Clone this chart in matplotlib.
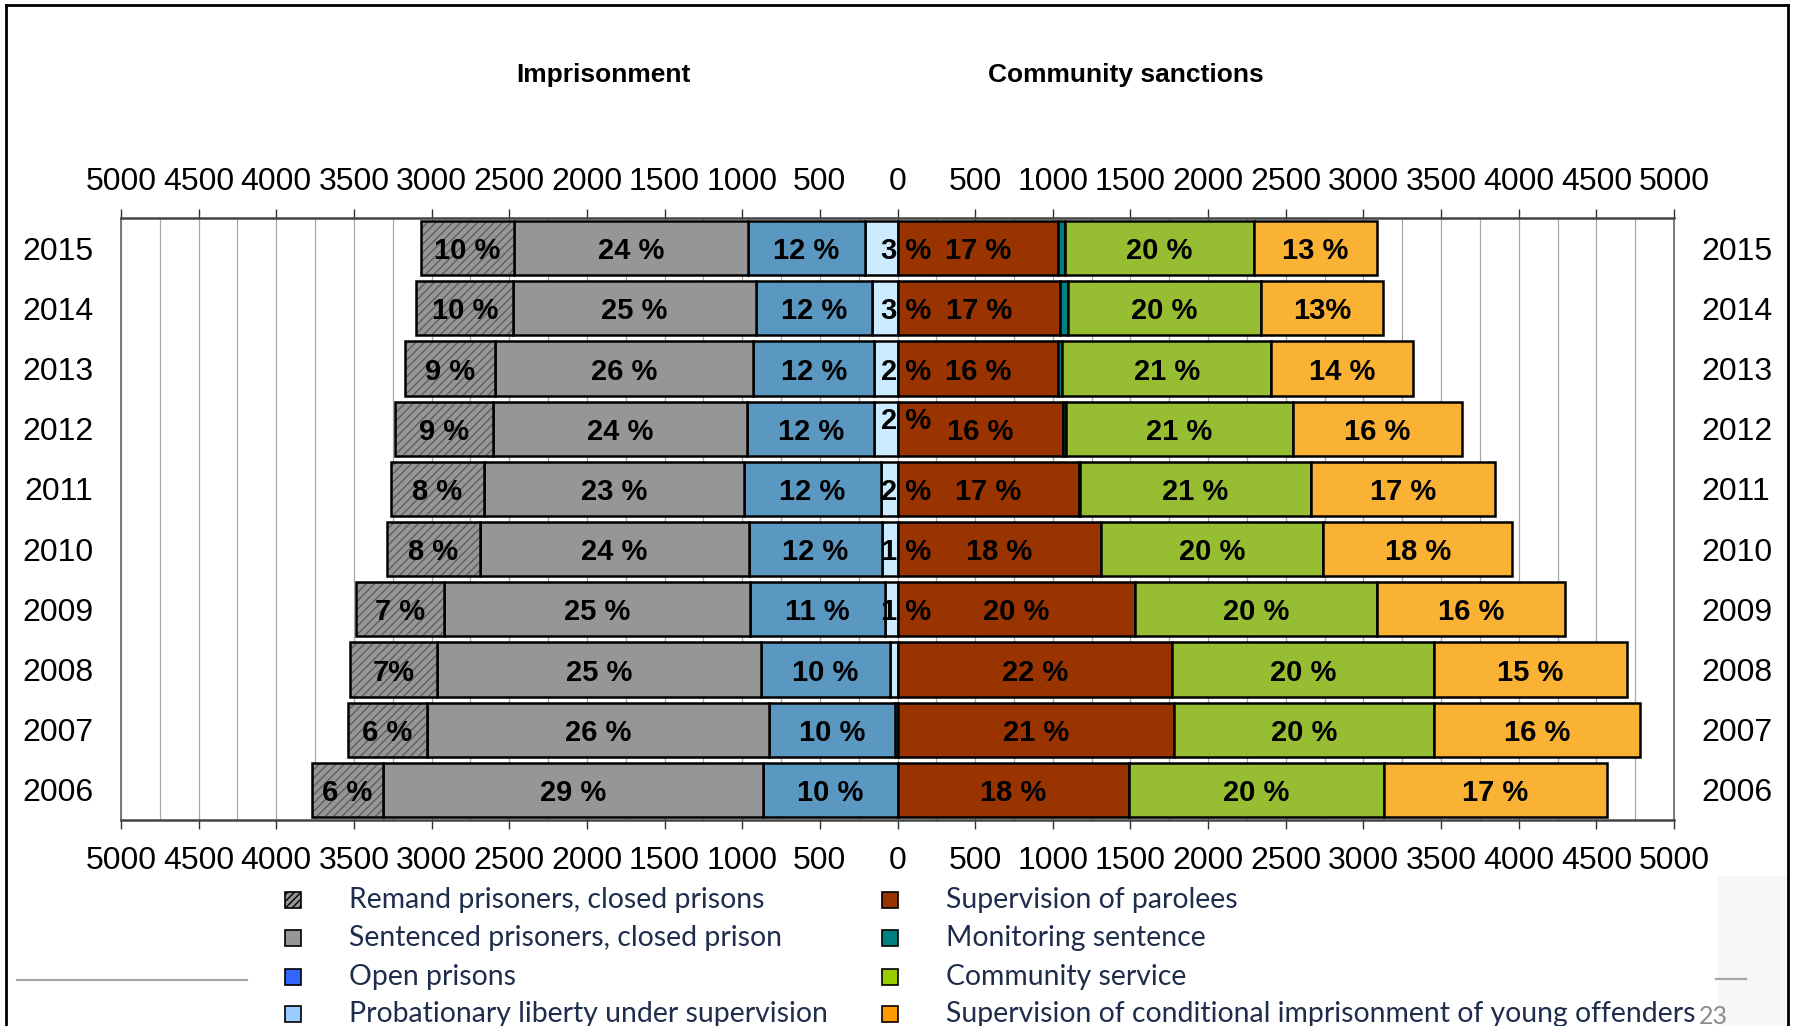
"""Imprisonment vs community sanctions, 2006-2015 (back-to-back stacked bars)."""

import numpy as np
import matplotlib
matplotlib.use("Agg")
import matplotlib.pyplot as plt
from matplotlib.patches import Rectangle
from matplotlib.lines import Line2D
from matplotlib.transforms import ScaledTranslation

# ---- data (rows top to bottom) ----
years = [2015, 2014, 2013, 2012, 2011, 2010, 2009, 2008, 2007, 2006]

# imprisonment (drawn to the left of zero)
remand = [598, 624, 580, 630, 597, 603, 569, 560, 506, 463]
sentenced = [1508, 1560, 1661, 1637, 1673, 1730, 1969, 2081, 2207, 2445]
open_prisons = [753, 750, 782, 817, 882, 856, 868, 833, 810, 865]
probation = [210, 164, 149, 149, 109, 101, 83, 49, 15, 0]

# community sanctions (drawn to the right of zero)
parolees = [1033, 1049, 1033, 1065, 1170, 1313, 1532, 1770, 1783, 1489]
monitoring = [45, 46, 29, 20, 5, 0, 0, 0, 0, 0]
community = [1217, 1246, 1344, 1462, 1486, 1429, 1556, 1683, 1674, 1645]
young = [790, 786, 914, 1086, 1184, 1217, 1207, 1244, 1324, 1432]

remand_lbl = ["10 %", "10 %", "9 %", "9 %", "8 %", "8 %", "7 %", "7%", "6 %", "6 %"]
sentenced_lbl = ["24 %", "25 %", "26 %", "24 %", "23 %", "24 %", "25 %", "25 %", "26 %", "29 %"]
open_lbl = ["12 %", "12 %", "12 %", "12 %", "12 %", "12 %", "11 %", "10 %", "10 %", "10 %"]
probation_lbl = ["3 %", "3 %", "2 %", "2 %", "2 %", "1 %", "1 %", "", "", ""]
parolees_lbl = ["17 %", "17 %", "16 %", "16 %", "17 %", "18 %", "20 %", "22 %", "21 %", "18 %"]
community_lbl = ["20 %", "20 %", "21 %", "21 %", "21 %", "20 %", "20 %", "20 %", "20 %", "20 %"]
young_lbl = ["13 %", "13%", "14 %", "16 %", "17 %", "18 %", "16 %", "15 %", "16 %", "17 %"]

legend_left = [
    "Remand prisoners, closed prisons",
    "Sentenced prisoners, closed prison",
    "Open prisons",
    "Probationary liberty under supervision",
]
legend_right = [
    "Supervision of parolees",
    "Monitoring sentence",
    "Community service",
    "Supervision of conditional imprisonment of young offenders",
]

# ---- style ----
W, H = 1794, 1026
BAR_FONT = ["Liberation Sans", "DejaVu Sans"]
LEG_FONT = ["Lato", "DejaVu Sans"]

c_remand = "#969696"
c_sent = "#969696"
c_open = "#5A97C1"
c_prob = "#CCEBFF"
c_parol = "#993300"
c_monit = "#008080"
c_comm = "#97BE33"
c_young = "#F9B233"

# the legend swatches use the original (brighter) palette
leg_colors_left = ["#969696", "#969696", "#3366FF", "#99CCFF"]
leg_colors_right = ["#993300", "#008080", "#99CC00", "#FF9900"]


def fx(px):
    return px / W


def fy(py):
    return 1 - py / H


plt.rcParams["hatch.linewidth"] = 1.0
fig = plt.figure(figsize=(W / 100, H / 100), dpi=100, facecolor="white")

# faint slide background at lower right
fig.add_artist(Rectangle((fx(1718), 0), fx(1788) - fx(1718), fy(876),
                         transform=fig.transFigure, facecolor="#F7F7F7",
                         edgecolor="none", zorder=0))

ax = fig.add_axes([fx(121), fy(820), fx(1674) - fx(121), fy(218) - fy(820)])
ax.set_axisbelow(True)

y = np.arange(len(years))
bar_h = 0.9
lbl_dy = 0.05
edge_kw = dict(edgecolor="black", linewidth=1.8, height=bar_h)
lbl_kw = dict(ha="center", va="center", fontsize=21, fontweight="bold",
              family=BAR_FONT, zorder=6)

# left side: stack outward from zero
cum = np.zeros(len(years))
left_parts = [
    (probation, c_prob, probation_lbl),
    (open_prisons, c_open, open_lbl),
    (sentenced, c_sent, sentenced_lbl),
    (remand, c_remand, remand_lbl),
]
for vals, col, lbls in left_parts:
    vals = np.asarray(vals, dtype=float)
    if lbls is remand_lbl:
        # hatch in dark grey, outline in black
        ax.barh(y, -vals, left=-cum, height=bar_h, color=col, hatch="////",
                edgecolor="#5E5E5E", linewidth=0, zorder=3)
        ax.barh(y, -vals, left=-cum, fill=False, zorder=4, **edge_kw)
    else:
        ax.barh(y, -vals, left=-cum, color=col, zorder=3, **edge_kw)
    for i, txt in enumerate(lbls):
        if not txt:
            continue
        if lbls is probation_lbl:
            # these labels spill over the zero line, as in the original
            xc = 55
            dy = -0.17 if years[i] == 2012 else 0
        else:
            xc = -(cum[i] + vals[i] / 2)
            dy = 0
        ax.text(xc, y[i] + dy + lbl_dy, txt, **lbl_kw)
    cum += vals

# right side
cum = np.zeros(len(years))
right_parts = [
    (parolees, c_parol, parolees_lbl),
    (monitoring, c_monit, None),
    (community, c_comm, community_lbl),
    (young, c_young, young_lbl),
]
for vals, col, lbls in right_parts:
    vals = np.asarray(vals, dtype=float)
    ax.barh(y, vals, left=cum, color=col, zorder=3, **edge_kw)
    if lbls is not None:
        for i, txt in enumerate(lbls):
            ax.text(cum[i] + vals[i] / 2, y[i] + lbl_dy, txt, **lbl_kw)
    cum += vals

# axes
ax.set_xlim(-5000, 5000)
ax.set_ylim(len(years) - 0.5, -0.5)
major = np.arange(-5000, 5001, 500)
ax.set_xticks(major)
ax.set_xticklabels([str(abs(int(v))) for v in major], family=BAR_FONT, fontsize=23)
ax.set_xticks(np.arange(-5000, 5001, 250), minor=True)
ax.xaxis.set_ticks_position("both")
ax.tick_params(axis="x", which="major", direction="out", length=6.5, width=1.0,
               color="#333333", labeltop=True, labelbottom=True, pad=12)
ax.tick_params(axis="x", which="minor", length=0)
# top tick labels sit a little closer to the axis
shift = ScaledTranslation(0, -5 / 100, fig.dpi_scale_trans)
for t in ax.xaxis.get_major_ticks():
    t.label2.set_transform(t.label2.get_transform() + shift)

ax.grid(axis="x", which="both", color="#A8A8A8", linewidth=0.9)
ax.grid(axis="y", visible=False)

ax.set_yticks(y)
ax.set_yticklabels([str(v) for v in years], family=BAR_FONT, fontsize=23)
ax.tick_params(axis="y", length=0, labelleft=True, labelright=True, pad=20)

for side in ["top", "bottom"]:
    ax.spines[side].set_color("#444444")
    ax.spines[side].set_linewidth(1.8)
for side in ["left", "right"]:
    ax.spines[side].set_color("#777777")
    ax.spines[side].set_linewidth(1.4)

# headings
fig.text(fx(603), fy(75), "Imprisonment", ha="center", va="center",
         fontsize=19, fontweight="bold", family=BAR_FONT)
fig.text(fx(1126), fy(75), "Community sanctions", ha="center", va="center",
         fontsize=19, fontweight="bold", family=BAR_FONT)

# legend, two columns of four
rows_y = [900, 938, 977, 1014]
sq = 16
for col_x, txt_x, names, cols in [(293, 349, legend_left, leg_colors_left),
                                   (890, 946, legend_right, leg_colors_right)]:
    for k, (name, c) in enumerate(zip(names, cols)):
        hatch = "/////" if (names is legend_left and k == 0) else None
        fig.add_artist(Rectangle((fx(col_x - sq / 2), fy(rows_y[k] + sq / 2)),
                                 sq / W, sq / H, transform=fig.transFigure,
                                 facecolor=c, edgecolor="black", linewidth=1.2,
                                 hatch=hatch))
        fig.text(fx(txt_x), fy(rows_y[k]), name, ha="left", va="center",
                 fontsize=20.4, family=LEG_FONT, color="#1F2D4D")

# slide furniture
fig.add_artist(Line2D([fx(17), fx(247)], [fy(980), fy(980)], color="#A6A6A6",
                      linewidth=1.6, transform=fig.transFigure))
fig.add_artist(Line2D([fx(1716), fx(1746)], [fy(979), fy(979)], color="#A6A6A6",
                      linewidth=1.6, transform=fig.transFigure))
fig.text(fx(1699), fy(1016), "23", ha="left", va="center", fontsize=18,
         family=LEG_FONT, color="#8C8C8C")

frame_kw = dict(color="black", linewidth=2.0, transform=fig.transFigure)
fig.add_artist(Line2D([fx(6), fx(6)], [0, fy(5)], **frame_kw))
fig.add_artist(Line2D([fx(6), fx(1788)], [fy(5), fy(5)], **frame_kw))
fig.add_artist(Line2D([fx(1788), fx(1788)], [0, fy(5)], **frame_kw))

fig.savefig("out.png", dpi=100, facecolor="white")
